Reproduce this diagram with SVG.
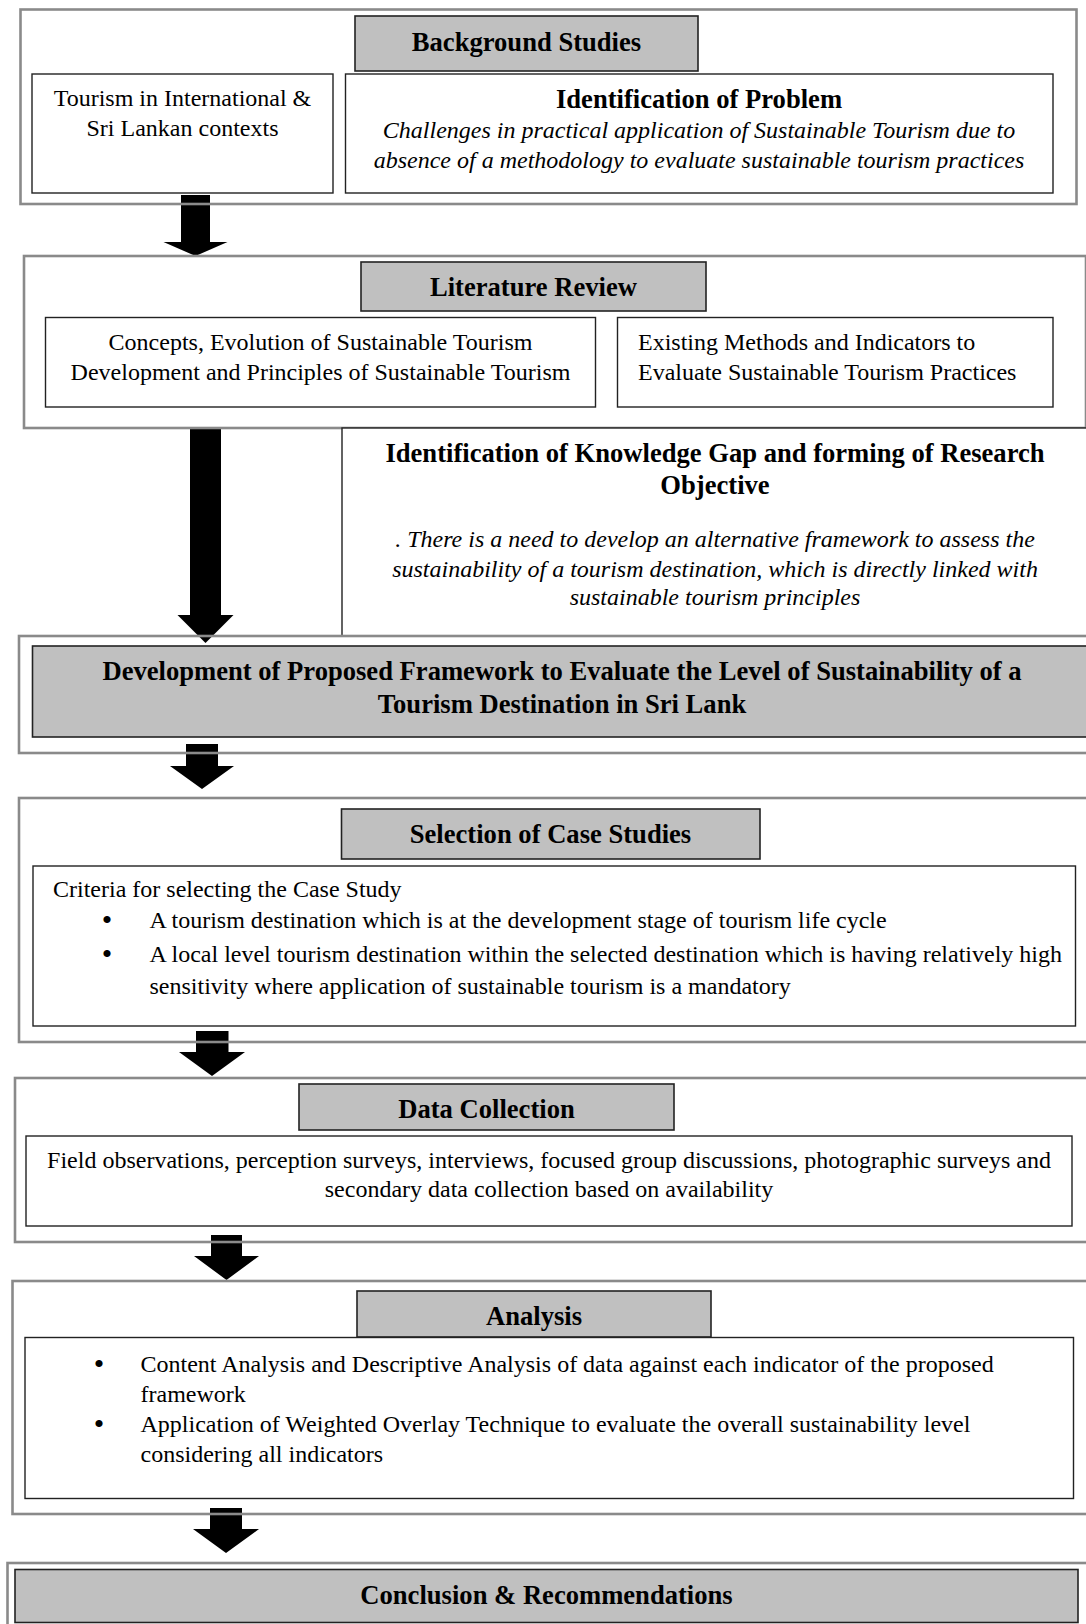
<svg xmlns="http://www.w3.org/2000/svg" width="1086" height="1624" viewBox="0 0 1086 1624">
<style>
.outer{fill:none;stroke:#8a8a8a;stroke-width:2.6}
.box{fill:#fff;stroke:#222;stroke-width:1.4}
.hdr{fill:#c0c0c0;stroke:#222;stroke-width:1.6}
.arrow{fill:#000}
text{font-family:"Liberation Serif","Times New Roman",serif;font-size:24px;fill:#000}
.b{font-weight:bold;font-size:26.6px}
.i{font-style:italic}
.c{text-anchor:middle}
.bul{font-size:30px;text-anchor:middle}
</style>
<rect width="1086" height="1624" fill="#fff"/>
<g id="connectors">
<path class="arrow" d="M181 195H210V242H227.5L195.5 256L163.5 242H181Z"/>
<path class="arrow" d="M190 427H221V615H233.5L205.5 643L177.5 615H190Z"/>
<path class="arrow" d="M186 744H218V766H234L202 789L170 766H186Z"/>
<path class="arrow" d="M196 1031H228.5V1052H245L212 1076L179 1052H196Z"/>
<path class="arrow" d="M211 1235H242V1256H259L226.5 1280L194 1256H211Z"/>
<path class="arrow" d="M210 1508H242V1529H259L226 1553L193 1529H210Z"/>
</g>
<g id="background-studies">
<rect class="outer" x="20.5" y="9.5" width="1056" height="194.5"/>
<rect class="hdr" x="355" y="16" width="343" height="55"/>
<text class="b c" x="526.5" y="51">Background Studies</text>
</g>
<g id="tourism-contexts">
<rect class="box" x="32" y="74" width="301" height="119"/>
<text class="c" x="182.5" y="106">Tourism in International &amp;</text>
<text class="c" x="182.5" y="136">Sri Lankan contexts</text>
</g>
<g id="identification-problem">
<rect class="box" x="345.5" y="74" width="707.5" height="119"/>
<text class="b c" x="699" y="108">Identification of Problem</text>
<text class="i c" x="699" y="138">Challenges in practical application of Sustainable Tourism due to</text>
<text class="i c" x="699" y="168">absence of a methodology to evaluate sustainable tourism practices</text>
</g>
<g id="literature-review">
<rect class="outer" x="24" y="256" width="1062" height="172"/>
<rect class="hdr" x="361" y="262" width="345" height="49"/>
<text class="b c" x="533.5" y="296">Literature Review</text>
</g>
<g id="concepts">
<rect class="box" x="45.5" y="317.5" width="550" height="89.5"/>
<text class="c" x="320.5" y="350">Concepts, Evolution of Sustainable Tourism</text>
<text class="c" x="320.5" y="380">Development and Principles of Sustainable Tourism</text>
</g>
<g id="existing-methods">
<rect class="box" x="617.5" y="317.5" width="435.5" height="89.5"/>
<text x="638" y="350">Existing Methods and Indicators to</text>
<text x="638" y="380">Evaluate Sustainable Tourism Practices</text>
</g>
<g id="knowledge-gap">
<rect class="box" x="342" y="428" width="760" height="208"/>
<text class="b c" x="715" y="462">Identification of Knowledge Gap and forming of Research</text>
<text class="b c" x="715" y="493.5">Objective</text>
<text class="i c" x="715" y="547">.  There is a need to develop an alternative framework to assess the</text>
<text class="i c" x="715" y="576.5">sustainability of a tourism destination, which is directly linked with</text>
<text class="i c" x="715" y="605">sustainable tourism principles</text>
</g>
<g id="proposed-framework">
<rect class="outer" x="19" y="636" width="1080" height="117"/>
<rect class="hdr" x="32.5" y="646" width="1070" height="91"/>
<text class="b c" x="562" y="680">Development of Proposed Framework to Evaluate the Level of Sustainability of a</text>
<text class="b c" x="562" y="713">Tourism Destination in Sri Lank</text>
</g>
<g id="case-studies">
<rect class="outer" x="19" y="798" width="1080" height="244"/>
<rect class="hdr" x="341.5" y="809" width="418.5" height="50"/>
<text class="b c" x="550.5" y="843">Selection of Case Studies</text>
</g>
<g id="criteria">
<rect class="box" x="33" y="866" width="1042.5" height="160"/>
<text x="53" y="897">Criteria for selecting the Case Study</text>
<text class="bul" x="107" y="930">•</text>
<text x="149.5" y="928">A tourism destination which is at the development stage of tourism life cycle</text>
<text class="bul" x="107" y="964">•</text>
<text x="149.5" y="962">A local level tourism destination within the selected destination which is having relatively high</text>
<text x="149.5" y="993.5">sensitivity where application of sustainable tourism is a mandatory</text>
</g>
<g id="data-collection">
<rect class="outer" x="15" y="1078" width="1084" height="164"/>
<rect class="hdr" x="299" y="1084" width="375" height="46"/>
<text class="b c" x="486.5" y="1118">Data Collection</text>
</g>
<g id="data-methods">
<rect class="box" x="26" y="1136" width="1046" height="90"/>
<text class="c" x="549" y="1168">Field observations, perception surveys, interviews, focused group discussions, photographic surveys and</text>
<text class="c" x="549" y="1197">secondary data collection based on availability</text>
</g>
<g id="analysis">
<rect class="outer" x="12.5" y="1281" width="1086" height="233"/>
<rect class="hdr" x="357" y="1291" width="354" height="46"/>
<text class="b c" x="534" y="1325">Analysis</text>
</g>
<g id="analysis-methods">
<rect class="box" x="25" y="1337.5" width="1048.5" height="161"/>
<text class="bul" x="99" y="1374">•</text>
<text x="140.5" y="1372">Content Analysis and Descriptive Analysis of data against each indicator of the proposed</text>
<text x="140.5" y="1402">framework</text>
<text class="bul" x="99" y="1434">•</text>
<text x="140.5" y="1432">Application of Weighted Overlay Technique to evaluate the overall sustainability level</text>
<text x="140.5" y="1462">considering all indicators</text>
</g>
<g id="conclusion">
<rect class="outer" x="7.5" y="1563" width="1090" height="70"/>
<rect class="hdr" x="15" y="1569.5" width="1063" height="53"/>
<text class="b c" x="546.5" y="1603.5">Conclusion &amp; Recommendations</text>
</g>
</svg>
